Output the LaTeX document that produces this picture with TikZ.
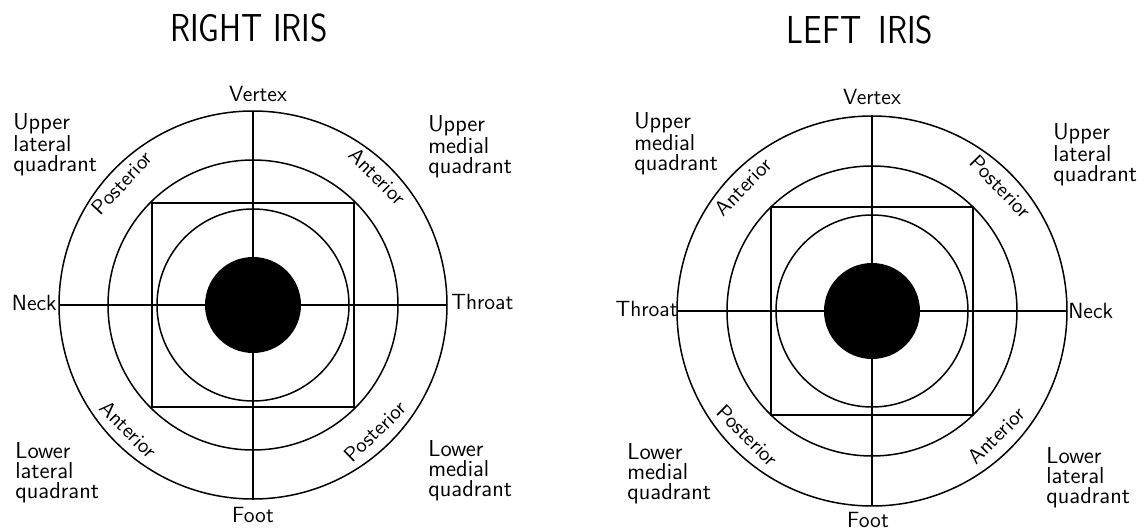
\documentclass[tikz,border=0pt]{standalone}
\usepackage{graphicx}
\usetikzlibrary{calc}
\begin{document}
\begin{tikzpicture}[x=0.5pt,y=0.5pt,
  ring/.style={line width=0.75pt},
  axisline/.style={line width=0.95pt},
  lbl/.style={font=\sffamily\fontsize{11}{11}\selectfont, inner sep=0pt},
  corner/.style={font=\sffamily\fontsize{11.5}{10}\selectfont, align=left, inner sep=0pt, anchor=north west},
  arclbl/.style={font=\sffamily\fontsize{10.5}{10.5}\selectfont, inner sep=0pt},
  titlelbl/.style={font=\sffamily\fontsize{19.5}{20}\selectfont, inner sep=0pt}]
\useasboundingbox (0,0) rectangle (1148,531);

% ---------- RIGHT IRIS ----------
\coordinate (R) at (253,226);
\coordinate (RW) at (59,226);
\coordinate (RE) at (447,226);
\coordinate (RN) at (253,420);
\coordinate (RS) at (253,31);
\coordinate (RSq1) at (152,124);
\coordinate (RSq2) at (354,328);
\draw[ring] (R) circle[radius=194];
\draw[ring] (R) circle[radius=145];
\draw[ring] (R) circle[radius=96];
\draw[ring] (RSq1) rectangle (RSq2);
\draw[axisline] (RW) -- (RE);
\draw[axisline] (RN) -- (RS);
\fill (R) circle[radius=48];

\node[titlelbl] (rtitle) at (249,503) {\scalebox{0.85}[1]{RIGHT IRIS}};
\node[lbl] (rvertex) at (258,437) {Vertex};
\node[lbl] (rfoot) at (253,16) {Foot};
\node[lbl, anchor=east] (rneck) at (57,228) {Neck};
\node[lbl, anchor=west] (rthroat) at (451,229) {Throat};
\node[corner] (rul) at (13,418) {Upper\\lateral\\quadrant};
\node[corner] (rum) at (428,416) {Upper\\medial\\quadrant};
\node[corner] (rll) at (15,89) {Lower\\lateral\\quadrant};
\node[corner] (rlm) at (428,91) {Lower\\medial\\quadrant};
\node[arclbl, rotate=47] (rp1) at ([shift={(137:179)}]R) {Posterior};
\node[arclbl, rotate=-45] (ra1) at ([shift={(46:179)}]R) {Anterior};
\node[arclbl, rotate=-45] (ra2) at ([shift={(225:176)}]R) {Anterior};
\node[arclbl, rotate=44] (rp2) at ([shift={(-46:176)}]R) {Posterior};

% ---------- LEFT IRIS ----------
\coordinate (L) at (872,220);
\coordinate (LW) at (678,220);
\coordinate (LE) at (1066,220);
\coordinate (LN) at (872,416);
\coordinate (LS) at (872,25);
\coordinate (LSq1) at (771,116);
\coordinate (LSq2) at (973,324);
\draw[ring] (L) circle[radius=195];
\draw[ring] (L) circle[radius=145];
\draw[ring] (L) circle[radius=96];
\draw[ring] (LSq1) rectangle (LSq2);
\draw[axisline] (LW) -- (LE);
\draw[axisline] (LN) -- (LS);
\fill (L) circle[radius=48];

\node[titlelbl] (ltitle) at (860,501) {\scalebox{0.85}[1]{LEFT\hspace{10pt}IRIS}};
\node[lbl] (lvertex) at (872,434) {Vertex};
\node[lbl] (lfoot) at (868,11) {Foot};
\node[lbl, anchor=east] (lthroat) at (678,222) {Throat};
\node[lbl, anchor=west] (lneck) at (1068,220) {Neck};
\node[corner] (lum) at (634,419) {Upper\\medial\\quadrant};
\node[corner] (lul) at (1053,408) {Upper\\lateral\\quadrant};
\node[corner] (llm) at (627,88) {Lower\\medial\\quadrant};
\node[corner] (lll) at (1046,84) {Lower\\lateral\\quadrant};
\node[arclbl, rotate=46] (la1) at ([shift={(136:179)}]L) {Anterior};
\node[arclbl, rotate=-46] (lp1) at ([shift={(44:179)}]L) {Posterior};
\node[arclbl, rotate=-45] (lp2) at ([shift={(225:176)}]L) {Posterior};
\node[arclbl, rotate=45] (la2) at ([shift={(-45:176)}]L) {Anterior};
\end{tikzpicture}
\end{document}
